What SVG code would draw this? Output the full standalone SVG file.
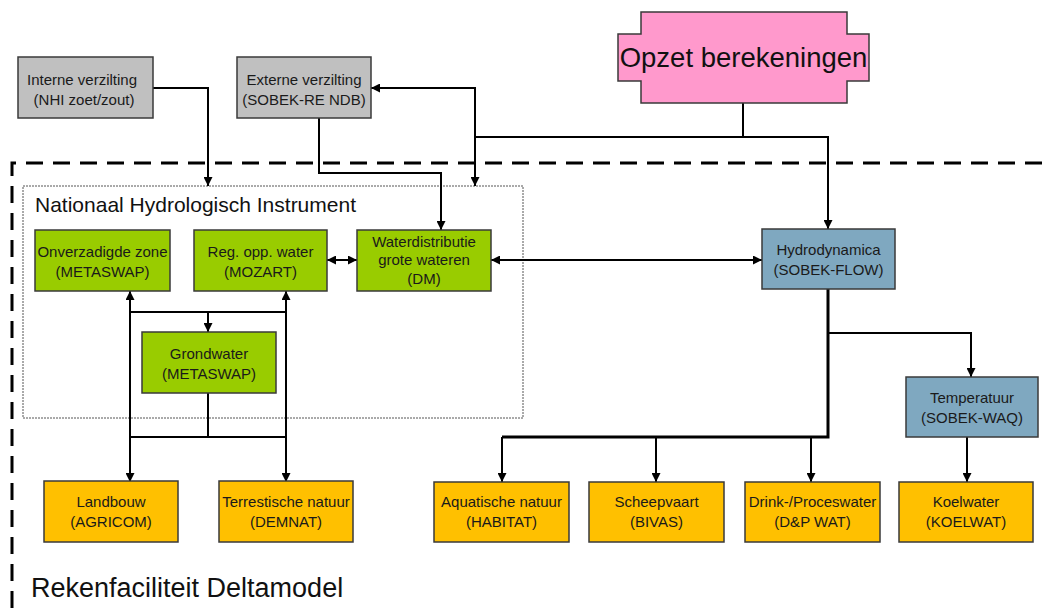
<svg xmlns="http://www.w3.org/2000/svg" width="1052" height="608" viewBox="0 0 1052 608">
<defs>
<marker id="ah" viewBox="0 0 10 10" refX="10" refY="5" markerWidth="9" markerHeight="9" markerUnits="userSpaceOnUse" orient="auto-start-reverse">
<path d="M0,0 L10,5 L0,10 z" fill="#000"/>
</marker>
</defs>
<style>
.box{stroke:#3a3a3a;stroke-width:1.5}
.gray{fill:#c0c0c0}
.green{fill:#99cc00}
.blue{fill:#7fa8c0}
.orange{fill:#ffc000}
.pink{fill:#ff99cc}
.t{font-family:"Liberation Sans",Arial,sans-serif;font-size:15px;fill:#1a1a1a;text-anchor:middle}
.big{font-family:"Liberation Sans",Arial,sans-serif;fill:#111}
.c{fill:none;stroke:#000;stroke-width:2}
.c3{fill:none;stroke:#000;stroke-width:3}
.a{marker-end:url(#ah)}
.aa{marker-start:url(#ah);marker-end:url(#ah)}
</style>
<rect width="1052" height="608" fill="#fff"/>

<g id="frame">
<path d="M12,608 L12,163 L1052,163" fill="none" stroke="#000" stroke-width="3" stroke-dasharray="17 10"/>
<text class="big" x="31" y="597" font-size="27">Rekenfaciliteit Deltamodel</text>
</g>

<g id="nhi">
<rect x="23" y="186" width="500" height="232" fill="none" stroke="#555" stroke-width="1" stroke-dasharray="2 1"/>
<text class="big" x="35" y="212" font-size="21">Nationaal Hydrologisch Instrument</text>
</g>

<g id="connectors">
<path class="c a" d="M153,88 L208,88 L208,186"/>
<path class="c a" d="M319,118 L319,173 L441,173 L441,230"/>
<path class="c a" d="M475,137 L475,88 L371,88"/>
<path class="c a" d="M475,137 L475,186"/>
<path class="c" d="M743,103 L743,137 L475,137"/>
<path class="c a" d="M743,137 L828,137 L828,229"/>
<path class="c aa" d="M327,260 L357,260"/>
<path class="c aa" d="M491,260 L762,260"/>
<path class="c aa" d="M130,291 L130,482"/>
<path class="c aa" d="M286,291 L286,482"/>
<path class="c" d="M130,312 L286,312"/>
<path class="c a" d="M208,312 L208,332"/>
<path class="c" d="M208,393 L208,437 M130,437 L286,437"/>
<path class="c3" d="M828,289 L828,437 L502,437"/>
<path class="c a" d="M828,333 L971,333 L971,377"/>
<path class="c a" d="M502,437 L502,482"/>
<path class="c a" d="M656,437 L656,482"/>
<path class="c a" d="M811,437 L811,482"/>
<path class="c a" d="M967,437 L967,482"/>
</g>

<g id="opzet">
<path class="box pink" d="M641,12 L847,12 L847,34 L869,34 L869,81 L847,81 L847,103 L641,103 L641,81 L618,81 L618,34 L641,34 z"/>
<text class="big" x="743.5" y="67" font-size="27.5" text-anchor="middle">Opzet berekeningen</text>
</g>

<g id="interne">
<rect class="box gray" x="18" y="57" width="135" height="61"/>
<text class="t" x="82" y="85">Interne verzilting</text>
<text class="t" x="84" y="105">(NHI zoet/zout)</text>
</g>

<g id="externe">
<rect class="box gray" x="237" y="57" width="134" height="61"/>
<text class="t" x="304" y="85">Externe verzilting</text>
<text class="t" x="304" y="105">(SOBEK-RE NDB)</text>
</g>

<g id="onverzadigde">
<rect class="box green" x="35" y="230" width="135" height="61"/>
<text class="t" x="102.5" y="257">Onverzadigde zone</text>
<text class="t" x="102.5" y="277">(METASWAP)</text>
</g>

<g id="regopp">
<rect class="box green" x="194" y="230" width="133" height="61"/>
<text class="t" x="260.5" y="257">Reg. opp. water</text>
<text class="t" x="260.5" y="277">(MOZART)</text>
</g>

<g id="waterdistributie">
<rect class="box green" x="357" y="230" width="134" height="61"/>
<text class="t" x="424" y="247">Waterdistributie</text>
<text class="t" x="424" y="265">grote wateren</text>
<text class="t" x="424" y="284">(DM)</text>
</g>

<g id="grondwater">
<rect class="box green" x="142" y="332" width="134" height="61"/>
<text class="t" x="209" y="359">Grondwater</text>
<text class="t" x="209" y="379">(METASWAP)</text>
</g>

<g id="hydrodynamica">
<rect class="box blue" x="762" y="229" width="133" height="60"/>
<text class="t" x="828.5" y="255">Hydrodynamica</text>
<text class="t" x="828.5" y="275">(SOBEK-FLOW)</text>
</g>

<g id="temperatuur">
<rect class="box blue" x="906" y="377" width="132" height="60"/>
<text class="t" x="972" y="403">Temperatuur</text>
<text class="t" x="972" y="423">(SOBEK-WAQ)</text>
</g>

<g id="landbouw">
<rect class="box orange" x="44" y="481" width="134" height="61"/>
<text class="t" x="111" y="507">Landbouw</text>
<text class="t" x="111" y="527">(AGRICOM)</text>
</g>

<g id="terrestische">
<rect class="box orange" x="219" y="481" width="134" height="61"/>
<text class="t" x="286" y="507">Terrestische natuur</text>
<text class="t" x="286" y="527">(DEMNAT)</text>
</g>

<g id="aquatische">
<rect class="box orange" x="434" y="482" width="135" height="60"/>
<text class="t" x="501.5" y="507">Aquatische natuur</text>
<text class="t" x="501.5" y="527">(HABITAT)</text>
</g>

<g id="scheepvaart">
<rect class="box orange" x="589" y="482" width="135" height="60"/>
<text class="t" x="656.5" y="507">Scheepvaart</text>
<text class="t" x="656.5" y="527">(BIVAS)</text>
</g>

<g id="drink">
<rect class="box orange" x="745" y="482" width="135" height="60"/>
<text class="t" x="812.5" y="507">Drink-/Proceswater</text>
<text class="t" x="812.5" y="527">(D&amp;P WAT)</text>
</g>

<g id="koelwater">
<rect class="box orange" x="899" y="482" width="134" height="60"/>
<text class="t" x="966" y="507">Koelwater</text>
<text class="t" x="966" y="527">(KOELWAT)</text>
</g>
</svg>
